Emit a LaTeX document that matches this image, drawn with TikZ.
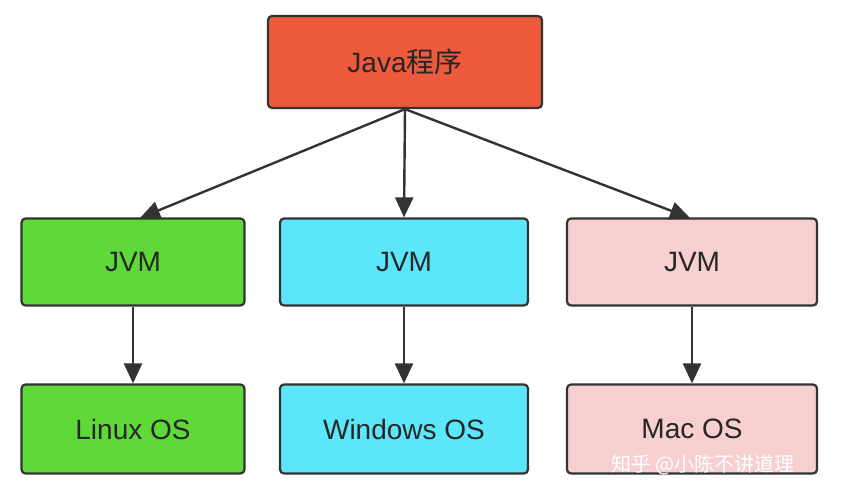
\documentclass[tikz,border=0pt]{standalone}
\usepackage{fontspec}
\setmainfont{Liberation Sans}
\newfontfamily\cjk{Noto Sans CJK SC}
\usetikzlibrary{positioning}
\usetikzlibrary{arrows.meta}
\definecolor{javacol}{HTML}{EE5A3C}
\definecolor{linuxcol}{HTML}{5FD93A}
\definecolor{wincol}{HTML}{5CE6F9}
\definecolor{maccol}{HTML}{F7CFCF}
\definecolor{edgecol}{HTML}{333333}
\tikzset{>={Triangle[length=20pt,width=18pt]}}
\tikzset{box/.style={draw=edgecol, line width=2.2pt, rounded corners=4pt, font=\fontsize{28}{32}\selectfont, text=black!85}}

\begin{document}
\begin{tikzpicture}[x=1pt, y=-1pt]

% Background
\useasboundingbox[fill=white] (0,0) rectangle (842,500);

% Java program
\node[box, fill=javacol, minimum width=274pt, minimum height=92pt] (java) at (405,62) {Java{\cjk 程序}};

% JVMs
\node[box, fill=linuxcol, minimum width=223pt, minimum height=87pt] (jvmL) at (133,262) {JVM};
\node[box, fill=wincol, minimum width=248pt, minimum height=87pt] (jvmW) at (404,262) {JVM};
\node[box, fill=maccol, minimum width=250pt, minimum height=87pt] (jvmM) at (692,262) {JVM};

% Operating systems
\node[box, fill=linuxcol, minimum width=223pt, minimum height=89pt] (osL) at (133,429) {Linux OS};
\node[box, fill=wincol, minimum width=248pt, minimum height=89pt] (osW) at (404,429) {Windows OS};
\node[box, fill=maccol, minimum width=250pt, minimum height=89pt] (osM) at (692,429) {Mac OS};

% Arrows
\coordinate (jvmLtop) at (140,218);
\coordinate (jvmMtop) at (690,218);
\draw[->, line width=2.4pt, edgecol] (java.south) -- (jvmLtop);
\draw[->, line width=2.4pt, edgecol] (java.south) -- (jvmW.north);
\draw[->, line width=2.4pt, edgecol] (java.south) -- (jvmMtop);
\draw[->, line width=2.4pt, edgecol] (jvmL) -- (osL);
\draw[->, line width=2.4pt, edgecol] (jvmW) -- (osW);
\draw[->, line width=2.4pt, edgecol] (jvmM) -- (osM);

% Watermark
\node[text=white, font=\cjk\fontsize{20}{24}\selectfont] (mark) at (703,465) {知乎 @小陈不讲道理};

\end{tikzpicture}
\end{document}
